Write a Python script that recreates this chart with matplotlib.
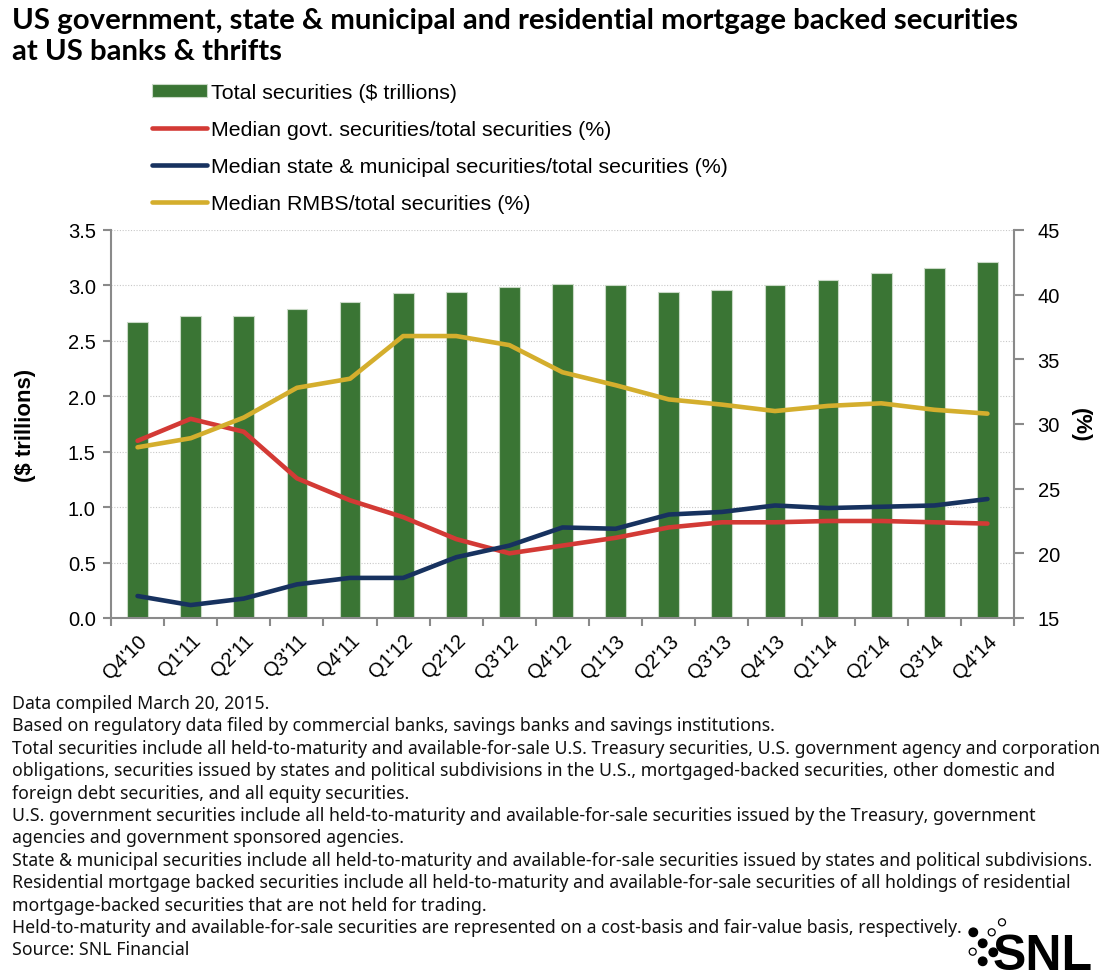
# US banks & thrifts: total securities vs. median share of govt, muni and RMBS holdings
import matplotlib
matplotlib.use("Agg")
import matplotlib.pyplot as plt
from matplotlib.patches import Ellipse

# quarters on the x axis
QUARTERS = ["Q4'10", "Q1'11", "Q2'11", "Q3'11", "Q4'11", "Q1'12", "Q2'12", "Q3'12",
            "Q4'12", "Q1'13", "Q2'13", "Q3'13", "Q4'13", "Q1'14", "Q2'14", "Q3'14", "Q4'14"]

# total securities, $ trillions (left axis)
total_securities = [2.67, 2.72, 2.72, 2.79, 2.85, 2.93, 2.94, 2.99,
                    3.01, 3.00, 2.94, 2.96, 3.00, 3.05, 3.11, 3.16, 3.21]

# medians in % (right axis)
govt_pct = [28.7, 30.4, 29.4, 25.8, 24.1, 22.8, 21.1, 20.0,
            20.6, 21.2, 22.0, 22.4, 22.4, 22.5, 22.5, 22.4, 22.3]
muni_pct = [16.7, 16.0, 16.5, 17.6, 18.1, 18.1, 19.7, 20.6,
            22.0, 21.9, 23.0, 23.2, 23.7, 23.5, 23.6, 23.7, 24.2]
rmbs_pct = [28.2, 28.9, 30.5, 32.8, 33.5, 36.8, 36.8, 36.1,
            34.0, 33.0, 31.9, 31.5, 31.0, 31.4, 31.6, 31.1, 30.8]

TITLE_LINES = ["US government, state & municipal and residential mortgage backed securities",
               "at US banks & thrifts"]

NOTES = [
    "Data compiled March 20, 2015.",
    "Based on regulatory data filed by commercial banks, savings banks and savings institutions.",
    "Total securities include all held-to-maturity and available-for-sale U.S. Treasury securities, U.S. government agency and corporation",
    "obligations, securities issued by states and political subdivisions in the U.S., mortgaged-backed securities, other domestic and",
    "foreign debt securities, and all equity securities.",
    "U.S. government securities include all held-to-maturity and available-for-sale securities issued by the Treasury, government",
    "agencies and government sponsored agencies.",
    "State & municipal securities include all held-to-maturity and available-for-sale securities issued by states and political subdivisions.",
    "Residential mortgage backed securities include all held-to-maturity and available-for-sale securities of all holdings of residential",
    "mortgage-backed securities that are not held for trading.",
    "Held-to-maturity and available-for-sale securities are represented on a cost-basis and fair-value basis, respectively.",
    "Source: SNL Financial",
]

GREEN = "#3a7534"
RED = "#d33a35"
NAVY = "#17325f"
GOLD = "#d4ae2d"
SPINE = "#8a8a8a"

W, H = 1102, 979

plt.rcParams["font.family"] = ["Liberation Sans", "DejaVu Sans"]

fig = plt.figure(figsize=(W / 100, H / 100), dpi=100)
ax = fig.add_axes([111 / W, 1 - 619 / H, 903 / W, 388 / H])
ax2 = ax.twinx()

x = list(range(len(QUARTERS)))
bars = ax.bar(x, total_securities, width=0.39, color=GREEN, edgecolor="#c9d9c6",
              linewidth=0.8, zorder=2, label="Total securities ($ trillions)")
l1, = ax2.plot(x, govt_pct, color=RED, lw=3.3, solid_capstyle="round",
               label="Median govt. securities/total securities (%)")
l2, = ax2.plot(x, muni_pct, color=NAVY, lw=3.3, solid_capstyle="round",
               label="Median state & municipal securities/total securities (%)")
l3, = ax2.plot(x, rmbs_pct, color=GOLD, lw=3.3, solid_capstyle="round",
               label="Median RMBS/total securities (%)")

ax.set_xlim(-0.5, len(QUARTERS) - 0.5)
ax.set_ylim(0, 3.5)
ax2.set_ylim(15, 45)
ax.set_yticks([i * 0.5 for i in range(8)])
ax.set_yticklabels([f"{i * 0.5:.1f}" for i in range(8)])
ax2.set_yticks(range(15, 46, 5))

# tick marks sit between quarters, labels at the bar centres
ax.set_xticks([i - 0.5 for i in range(len(QUARTERS) + 1)])
ax.set_xticklabels([])
ax.set_xticks(x, minor=True)
ax.set_xticklabels(QUARTERS, minor=True, rotation=45, ha="right", va="top",
                   rotation_mode="anchor", fontsize=14.5)
ax.tick_params(axis="x", which="minor", length=0, pad=9)
ax.tick_params(axis="x", which="major", length=6, width=1.5, color=SPINE, direction="out")
ax.tick_params(axis="y", length=6, width=1.5, color=SPINE, labelsize=14.5, pad=5)
ax2.tick_params(axis="y", length=7, width=1.5, color=SPINE, labelsize=14.5, pad=10)

ax.yaxis.grid(True, linestyle=(0, (1, 1.5)), color="#c8c8c8", lw=0.8, zorder=0)
ax.set_axisbelow(True)

for a in (ax, ax2):
    a.spines["top"].set_visible(False)
    for side in ("left", "right", "bottom"):
        a.spines[side].set_color(SPINE)
        a.spines[side].set_linewidth(1.5)
ax.spines["right"].set_visible(False)
ax2.spines["left"].set_visible(False)
ax2.spines["bottom"].set_visible(False)

ax.set_ylabel("($ trillions)", fontsize=16, fontweight="bold", va="center")
ax.yaxis.set_label_coords(-(111 - 26) / 903, 0.5)
ax2.set_ylabel("(%)", fontsize=16, fontweight="bold", rotation=270, va="center")
ax2.yaxis.set_label_coords(1 + (1080 - 1014) / 903, 0.5)

fig.legend([bars, l1, l2, l3], [h.get_label() for h in (bars, l1, l2, l3)],
           loc="upper left", bbox_to_anchor=(152 / W, 1 - 84 / H), frameon=False,
           fontsize=15.4, handlelength=2.57, handleheight=0.5, handletextpad=0.2,
           labelspacing=0.84, borderpad=0, borderaxespad=0)

renderer = fig.canvas.get_renderer()


def fit_text(t, target_px):
    # scale a text's size so its rendered width hits the target
    for _ in range(3):
        w = t.get_window_extent(renderer).width
        t.set_fontsize(t.get_fontsize() * target_px / w)


title_kw = dict(fontweight="bold", family=["Lato", "Liberation Sans"], ha="left", va="baseline")
t1 = fig.text(12 / W, 1 - 29 / H, TITLE_LINES[0], fontsize=16, **title_kw)
fit_text(t1, 1006)
fig.text(12 / W, 1 - 60 / H, TITLE_LINES[1], fontsize=t1.get_fontsize(), **title_kw)

note_kw = dict(family=["Noto Sans", "DejaVu Sans"], ha="left", va="baseline", color="#111111")
probe = fig.text(12 / W, 0, NOTES[7], fontsize=12, **note_kw)
fit_text(probe, 1080)
note_size = probe.get_fontsize()
probe.remove()
for i, line in enumerate(NOTES):
    fig.text(12 / W, 1 - (709 + 22.4 * i) / H, line, fontsize=note_size, **note_kw)

# SNL logo
for cx, cy, r, filled in [(973.3, 933.3, 4.3, True), (982.7, 944.3, 4.3, True),
                          (993.3, 953.3, 4.3, True), (982.7, 962.3, 4.3, True),
                          (1002.0, 923.3, 3.5, False), (991.7, 933.3, 3.5, False),
                          (972.7, 952.7, 3.5, False)]:
    fig.patches.append(Ellipse((cx / W, 1 - cy / H), 2 * r / W, 2 * r / H,
                               transform=fig.transFigure,
                               facecolor="black" if filled else "white",
                               edgecolor="black", lw=0.9))
fig.text(1093 / W, 1 - 970 / H, "SNL", fontsize=36, fontweight="bold",
         ha="right", va="baseline")

fig.savefig("out.png", dpi=100)
